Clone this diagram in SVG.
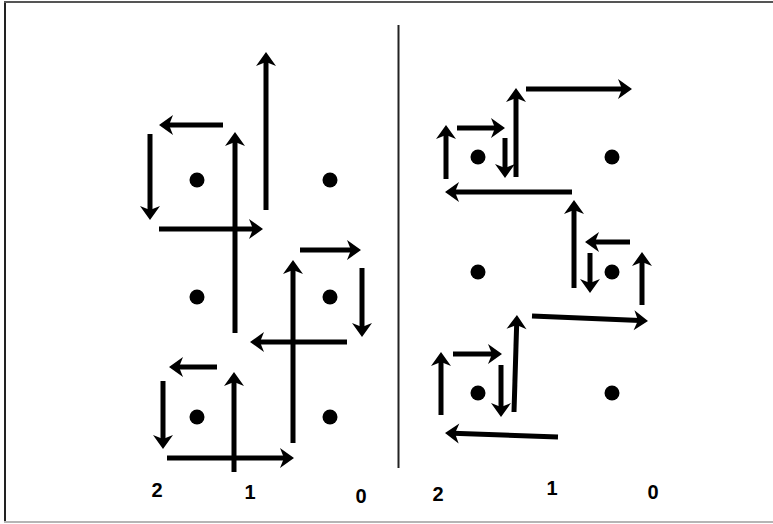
<svg xmlns="http://www.w3.org/2000/svg" width="773" height="524" viewBox="0 0 773 524">
  <style>
    .arr { stroke: #000; stroke-width: 5; fill: none; marker-end: url(#head); }
    .dot { fill: #000; }
    .lbl { font-family: "Liberation Sans", Arial, sans-serif; font-weight: bold; font-size: 20px; fill: #000; text-anchor: middle; }
  </style>
  <defs>
    <marker id="head" markerUnits="userSpaceOnUse" viewBox="-8 -11 18 22" refX="0" refY="0" markerWidth="18" markerHeight="22" orient="auto" overflow="visible">
      <path d="M 8 0 L -6 -10 L -2 0 L -6 10 Z" fill="#000"/>
    </marker>
  </defs>
  <rect x="0" y="0" width="773" height="524" fill="#fff"/>
  <g id="frame">
    <line x1="5" y1="2" x2="5" y2="522" stroke="#222" stroke-width="2"/>
    <line x1="4" y1="2" x2="773" y2="2" stroke="#555" stroke-width="2"/>
    <line x1="4" y1="522" x2="773" y2="522" stroke="#b5b5b5" stroke-width="2"/>
  </g>
  <g id="divider">
    <line x1="398.5" y1="25" x2="398.5" y2="468" stroke="#222" stroke-width="2"/>
  </g>
  <g id="left-dots">
    <g id="L-a"><circle class="dot" cx="197" cy="180" r="7.5"/></g>
    <g id="L-b"><circle class="dot" cx="330" cy="180" r="7.5"/></g>
    <g id="L-c"><circle class="dot" cx="197" cy="297" r="7.5"/></g>
    <g id="L-d"><circle class="dot" cx="330" cy="297" r="7.5"/></g>
    <g id="L-e"><circle class="dot" cx="197" cy="417" r="7.5"/></g>
    <g id="L-f"><circle class="dot" cx="330" cy="417" r="7.5"/></g>
  </g>
  <g id="right-dots">
    <g id="R-a"><circle class="dot" cx="478" cy="157" r="7.5"/></g>
    <g id="R-b"><circle class="dot" cx="612" cy="157" r="7.5"/></g>
    <g id="R-c"><circle class="dot" cx="478" cy="272" r="7.5"/></g>
    <g id="R-d"><circle class="dot" cx="612" cy="272" r="7.5"/></g>
    <g id="R-e"><circle class="dot" cx="478" cy="393" r="7.5"/></g>
    <g id="R-f"><circle class="dot" cx="612" cy="393" r="7.5"/></g>
  </g>
  <g id="connectors">
    <!-- left panel -->
    <line class="arr" x1="223" y1="125" x2="167" y2="125"/>
    <line class="arr" x1="150" y1="134" x2="150" y2="212"/>
    <line class="arr" x1="235" y1="333" x2="235" y2="140"/>
    <line class="arr" x1="266" y1="210" x2="266" y2="60"/>
    <line class="arr" x1="159" y1="229" x2="255" y2="229"/>
    <line class="arr" x1="300" y1="250" x2="353" y2="250"/>
    <line class="arr" x1="362" y1="268" x2="362" y2="329"/>
    <line class="arr" x1="293" y1="443" x2="293" y2="268"/>
    <line class="arr" x1="347" y1="342" x2="258" y2="342"/>
    <line class="arr" x1="217" y1="367" x2="177" y2="367"/>
    <line class="arr" x1="163" y1="381" x2="163" y2="441"/>
    <line class="arr" x1="234" y1="472" x2="234" y2="380"/>
    <line class="arr" x1="167" y1="458" x2="286" y2="458"/>
    <!-- right panel -->
    <line class="arr" x1="526" y1="89" x2="624" y2="89"/>
    <line class="arr" x1="516" y1="177" x2="516" y2="96"/>
    <line class="arr" x1="457" y1="128" x2="497" y2="128"/>
    <line class="arr" x1="446" y1="179" x2="446" y2="133"/>
    <line class="arr" x1="505" y1="138" x2="505" y2="170"/>
    <line class="arr" x1="572" y1="192" x2="453" y2="192"/>
    <line class="arr" x1="574" y1="288" x2="574" y2="208"/>
    <line class="arr" x1="630" y1="242" x2="593" y2="242"/>
    <line class="arr" x1="590" y1="253" x2="590" y2="285"/>
    <line class="arr" x1="642" y1="305" x2="642" y2="260"/>
    <line class="arr" x1="532" y1="316" x2="640" y2="320.6"/>
    <line class="arr" x1="514" y1="412" x2="516.7" y2="323"/>
    <line class="arr" x1="453" y1="354" x2="494" y2="354"/>
    <line class="arr" x1="441" y1="415" x2="441" y2="360"/>
    <line class="arr" x1="501" y1="365" x2="501" y2="409"/>
    <line class="arr" x1="558" y1="437" x2="453" y2="433.3"/>
  </g>
  <g id="labels">
    <text class="lbl" x="157" y="497">2</text>
    <text class="lbl" x="250" y="499">1</text>
    <text class="lbl" x="361" y="503">0</text>
    <text class="lbl" x="438" y="501">2</text>
    <text class="lbl" x="552" y="495">1</text>
    <text class="lbl" x="653" y="499">0</text>
  </g>
</svg>
